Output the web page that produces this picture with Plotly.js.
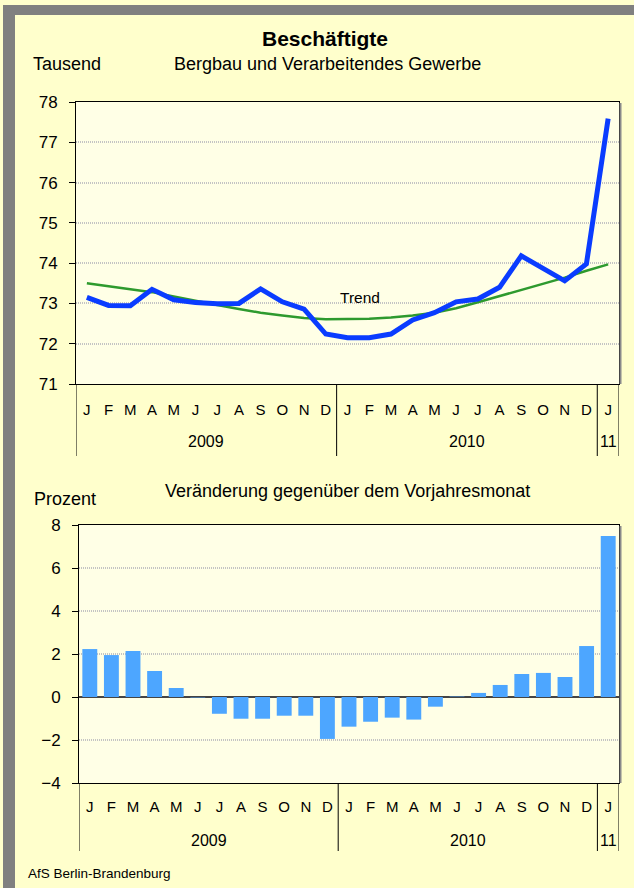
<!DOCTYPE html>
<html>
<head>
<meta charset="utf-8">
<script src="https://cdn.plot.ly/plotly-3.0.1.min.js"></script>
<style>html,body{margin:0;padding:0;background:#fff;}#chart{width:634px;height:888px;}</style>
</head>
<body>
<div id="chart"></div>
<script>
// ---- data ----
const months = ['J','F','M','A','M','J','J','A','S','O','N','D',
                'J','F','M','A','M','J','J','A','S','O','N','D','J'];
const yearLabels = ['2009','2010','11'];
const yearMonthCounts = [12, 12, 1];
const employees = [73.15,72.95,72.94,73.35,73.09,73.02,72.99,73.00,73.36,73.04,72.86,72.24,
                   72.15,72.15,72.24,72.59,72.77,73.04,73.11,73.40,74.18,73.87,73.56,73.98,77.59];
const trend = [73.50,73.43,73.36,73.28,73.17,73.06,72.96,72.86,72.77,72.70,72.64,72.61,
               72.61,72.62,72.65,72.70,72.77,72.88,73.03,73.18,73.33,73.48,73.64,73.81,73.97];
const change = [2.23,1.95,2.14,1.21,0.42,-0.02,-0.78,-1.01,-1.01,-0.87,-0.87,-1.95,
                -1.38,-1.15,-0.96,-1.05,-0.45,0.02,0.19,0.56,1.07,1.12,0.93,2.37,7.49];
const yTicksTop = [71,72,73,74,75,76,77,78];
const yTicksBottom = [-4,-2,0,2,4,6,8];

// ---- layout helpers ----
const W = 634, H = 888;
const px = x => x / W;
const py = y => 1 - y / H;
const idx = months.map((m, i) => i);
const FONT = 'Liberation Sans, Arial, sans-serif';

const traces = [
  {x: idx, y: trend, type: 'scatter', mode: 'lines', xaxis: 'x', yaxis: 'y',
   line: {color: '#2E9A2E', width: 2.5}, hoverinfo: 'skip'},
  {x: idx, y: employees, type: 'scatter', mode: 'lines', xaxis: 'x', yaxis: 'y',
   line: {color: '#0A3CFF', width: 5}, hoverinfo: 'skip'},
  {x: idx, y: change, type: 'bar', xaxis: 'x2', yaxis: 'y2',
   marker: {color: '#4DA6FF', line: {width: 0}}, hoverinfo: 'skip'}
];

const xCommon = {
  range: [-0.5, months.length - 0.5], tickvals: idx, ticktext: months,
  ticks: '', showgrid: false, zeroline: false, showline: true, mirror: true,
  linecolor: '#000', linewidth: 1, tickfont: {family: FONT, size: 15, color: '#000'},
  fixedrange: true
};
const yCommon = {
  ticks: 'outside', ticklen: 6, tickcolor: '#000', tickwidth: 1,
  showline: true, mirror: true, linecolor: '#000', linewidth: 1,
  showgrid: true, gridcolor: '#C4C4C4', gridwidth: 2, griddash: '1px,1px',
  tickfont: {family: FONT, size: 17, color: '#000'}, ticklabelstandoff: 8, fixedrange: true
};

const shapes = [
  // frame (gray band top & left)
  {type: 'rect', xref: 'paper', yref: 'paper', x0: px(3), x1: 1, y0: py(5), y1: py(15), fillcolor: '#808080', line: {width: 0}},
  {type: 'rect', xref: 'paper', yref: 'paper', x0: px(3), x1: px(15), y0: 0, y1: py(5), fillcolor: '#808080', line: {width: 0}},
  // right-edge shadows of plot frames
  {type: 'line', xref: 'paper', yref: 'paper', x0: px(620.5), x1: px(620.5), y0: py(384), y1: py(103), line: {color: '#8A8A8A', width: 2}},
  {type: 'line', xref: 'paper', yref: 'paper', x0: px(620.5), x1: px(620.5), y0: py(783), y1: py(526), line: {color: '#8A8A8A', width: 2}}
];
const annotations = [];
function addDividers(xa, yTopPx, yBotPx, yearYPx) {
  let start = 0;
  const bounds = [-0.5];
  yearMonthCounts.forEach((n, k) => {
    const center = start + (n - 1) / 2;
    annotations.push({xref: xa, yref: 'paper', x: center, y: py(yearYPx), text: yearLabels[k],
      showarrow: false, xanchor: 'center', yanchor: 'middle',
      font: {family: FONT, size: 16, color: '#000'}});
    start += n;
    bounds.push(start - 0.5);
  });
  bounds.forEach(b => shapes.push({type: 'line', xref: xa, yref: 'paper', x0: b, x1: b,
    y0: py(yTopPx), y1: py(yBotPx), line: {color: '#000', width: 1}}));
}
addDividers('x', 384, 456, 441.5);
addDividers('x2', 783, 851, 840);

annotations.push(
  {xref: 'paper', yref: 'paper', x: px(325), y: py(38), text: '<b>Beschäftigte</b>', showarrow: false,
   xanchor: 'center', yanchor: 'middle', font: {family: FONT, size: 21, color: '#000'}},
  {xref: 'paper', yref: 'paper', x: px(31), y: py(64), text: 'Tausend', showarrow: false,
   xanchor: 'left', yanchor: 'middle', font: {family: FONT, size: 18, color: '#000'}},
  {xref: 'paper', yref: 'paper', x: px(327), y: py(64), text: 'Bergbau und Verarbeitendes Gewerbe', showarrow: false,
   xanchor: 'center', yanchor: 'middle', font: {family: FONT, size: 18, color: '#000'}},
  {xref: 'paper', yref: 'paper', x: px(32), y: py(499), text: 'Prozent', showarrow: false,
   xanchor: 'left', yanchor: 'middle', font: {family: FONT, size: 18, color: '#000'}},
  {xref: 'paper', yref: 'paper', x: px(347), y: py(491), text: 'Veränderung gegenüber dem Vorjahresmonat', showarrow: false,
   xanchor: 'center', yanchor: 'middle', font: {family: FONT, size: 18, color: '#000'}},
  {xref: 'paper', yref: 'paper', x: px(26), y: py(873), text: 'AfS Berlin-Brandenburg', showarrow: false,
   xanchor: 'left', yanchor: 'middle', font: {family: FONT, size: 13.5, color: '#000'}},
  {xref: 'x', yref: 'y', x: 12.58, y: 73.15, text: 'Trend', showarrow: false,
   xanchor: 'center', yanchor: 'middle', font: {family: FONT, size: 15.5, color: '#000'}}
);

const layout = {
  width: W, height: H, margin: {l: 0, r: 0, t: 0, b: 0, pad: 0},
  paper_bgcolor: '#FFFFCC', plot_bgcolor: '#FFFFE6', showlegend: false,
  bargap: 0.31,
  xaxis: Object.assign({}, xCommon, {domain: [px(76), px(619)], anchor: 'y', ticklabelstandoff: 12}),
  yaxis: Object.assign({}, yCommon, {domain: [py(384), py(102)], range: [71, 78], tickvals: yTicksTop, anchor: 'x'}),
  xaxis2: Object.assign({}, xCommon, {domain: [px(79), px(619)], anchor: 'y2', ticklabelstandoff: 10}),
  yaxis2: Object.assign({}, yCommon, {domain: [py(783), py(525)], range: [-4, 8], tickvals: yTicksBottom, anchor: 'x2',
    zeroline: true, zerolinecolor: '#444', zerolinewidth: 1.5}),
  shapes: shapes, annotations: annotations
};

Plotly.newPlot('chart', traces, layout, {staticPlot: true, displayModeBar: false});
</script>
</body>
</html>
